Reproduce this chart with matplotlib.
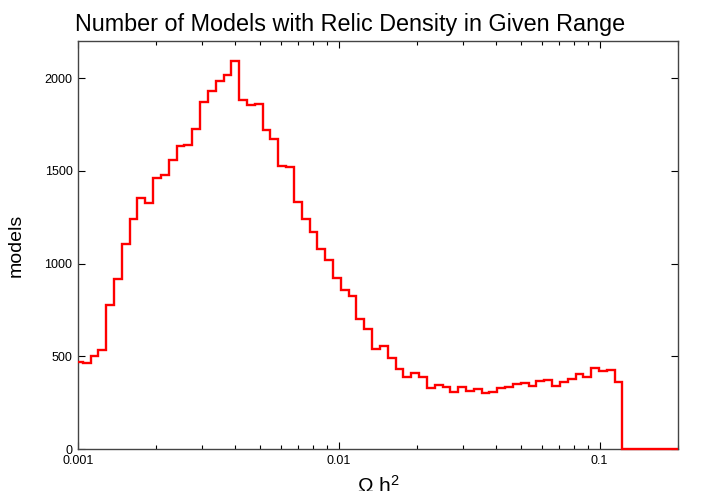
import matplotlib
matplotlib.use('Agg')
import matplotlib.pyplot as plt
import numpy as np
from matplotlib.ticker import FixedLocator, LogLocator, NullFormatter

plt.rcParams['font.family'] = ['Liberation Sans', 'DejaVu Sans']
plt.rcParams['mathtext.fontset'] = 'custom'
plt.rcParams['mathtext.rm'] = 'Liberation Sans'
plt.rcParams['mathtext.it'] = 'Liberation Sans'

# histogram bins: regular in log10(Omega h^2)
BIN_START_LOG = -3.012
BIN_WIDTH_LOG = 0.03
XMIN, XMAX = 0.001, 0.2

# models per bin
counts = [
    471, 466, 500, 536, 775, 915, 1105, 1240, 1353, 1325,
    1462, 1480, 1558, 1635, 1641, 1727, 1872, 1928, 1982, 2018,
    2090, 1880, 1855, 1862, 1721, 1671, 1524, 1520, 1333, 1242,
    1171, 1077, 1021, 922, 859, 825, 701, 645, 537, 557,
    492, 431, 388, 408, 388, 329, 345, 336, 307, 334,
    313, 325, 300, 306, 331, 334, 352, 356, 341, 368,
    374, 340, 361, 379, 403, 387, 435, 420, 428, 361,
]
# empty tail up to the right edge of the axis
tail = [0]

yticks = [0, 500, 1000, 1500, 2000]
xtick_labels = ['0.001', '0.01', '0.1']
xticks = [0.001, 0.01, 0.1]

edges = 10 ** (BIN_START_LOG + BIN_WIDTH_LOG * np.arange(len(counts) + 1))
edges = np.append(edges, XMAX)
edges = np.clip(edges, XMIN, XMAX)
values = np.array(counts + tail, dtype=float)

fig = plt.figure(figsize=(7.01, 4.91), dpi=100)
ax = fig.add_axes([78 / 701, 1 - 449 / 491, 600 / 701, 408 / 491])

ax.stairs(values, edges, baseline=None, color='#ff0000', linewidth=1.7,
          clip_on=False, zorder=5)

ax.set_xscale('log')
ax.set_xlim(XMIN, XMAX)
ax.set_ylim(0, 2200)

ax.xaxis.set_major_locator(FixedLocator(xticks))
ax.set_xticklabels(xtick_labels)
ax.xaxis.set_minor_locator(LogLocator(base=10, subs=np.arange(2, 10)))
ax.xaxis.set_minor_formatter(NullFormatter())
ax.yaxis.set_major_locator(FixedLocator(yticks))

ax.tick_params(which='both', direction='in', top=True, right=True,
               labelsize=9, colors='#000000', width=0.8)
ax.tick_params(which='major', length=5, pad=4)
ax.tick_params(which='minor', length=3)
for sp in ax.spines.values():
    sp.set_color('#444444')
    sp.set_linewidth(1.0)

fig.text(0.5, 1 - 31 / 491,
         'Number of Models with Relic Density in Given Range',
         fontsize=16.8, ha='center', va='baseline')
ax.set_ylabel('models', fontsize=14, labelpad=14)
fig.text(378 / 701, 1 - 475 / 491, r'$\Omega\ \mathrm{h}^2$', fontsize=15,
         ha='center', va='top')

fig.savefig('out.png', dpi=100)
plt.close(fig)
